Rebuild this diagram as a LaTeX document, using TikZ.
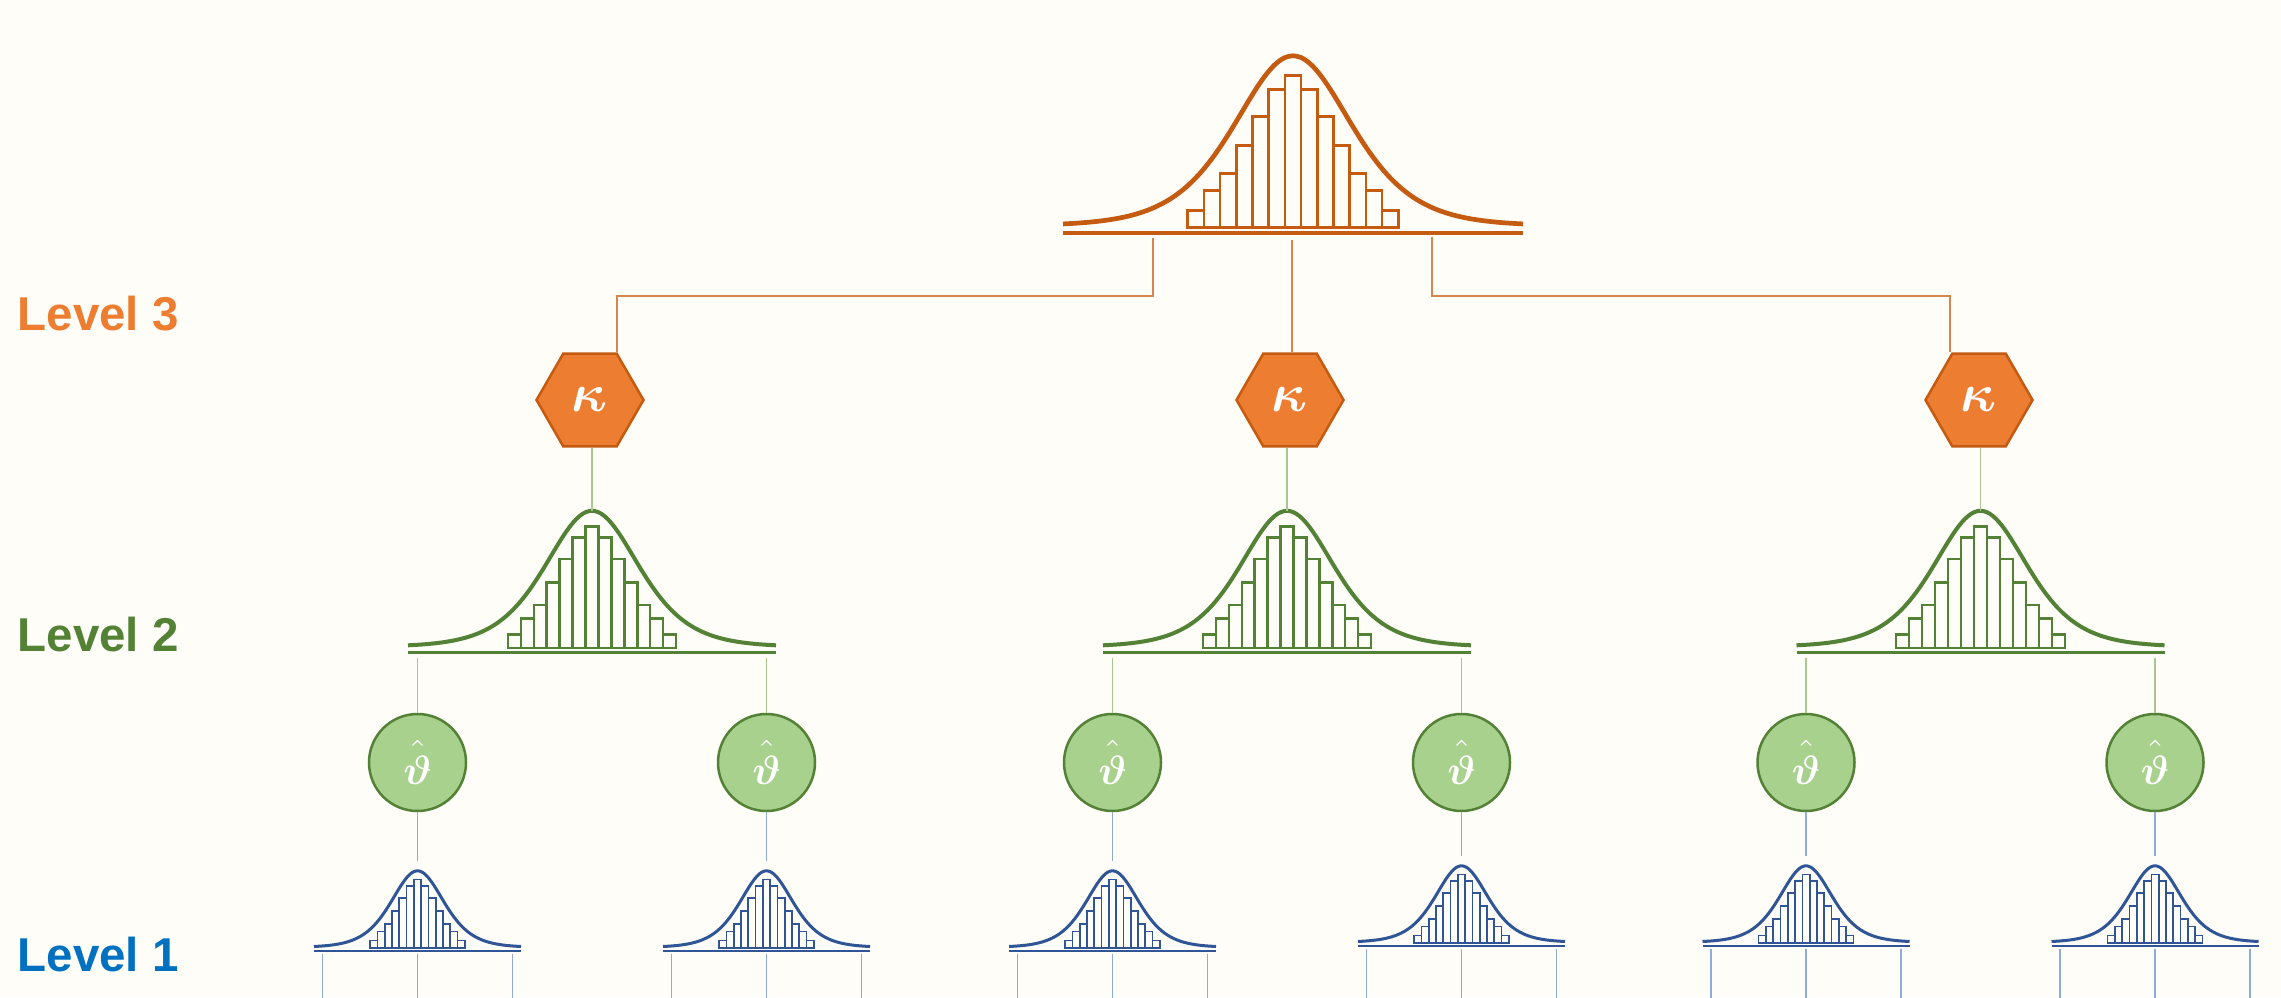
\documentclass[tikz,border=0pt]{standalone}
\usepackage{amsmath}
\usepackage{fontspec}
\setmainfont{Liberation Sans}
\usetikzlibrary{shapes.geometric,calc}
\definecolor{bg}{HTML}{FEFDF8}
\definecolor{orD}{HTML}{C55A11}
\definecolor{orF}{HTML}{ED7D31}
\definecolor{orL}{HTML}{D9864E}
\definecolor{orT}{HTML}{ED7D31}
\definecolor{grD}{HTML}{538135}
\definecolor{grF}{HTML}{A9D18E}
\definecolor{grL}{HTML}{A9C78F}
\definecolor{grT}{HTML}{548235}
\definecolor{blD}{HTML}{2F5597}
\definecolor{blL}{HTML}{8FAADC}
\definecolor{blT}{HTML}{0070C0}
\tikzset{
  pics/gauss/.style n args={5}{code={
    \begin{scope}[scale=#1, color=#2]
      \foreach \h [count=\i] in {17,37,54,82,111,138,152,138,111,82,54,37,17}
        \draw[line width=#4] ({-105.3+(\i-1)*16.2},0) rectangle ++(16.2,\h);
      \draw[line width=#3] plot[domain=-230:230,samples=121,smooth] (\x,{1.5+170/(cosh(\x/78))^2});
      \draw[line width=#5] (-230,-5.7) -- (230,-5.7);
      \coordinate (-peak) at (0,171.5);
      \coordinate (-ax) at (0,-5.7);
    \end{scope}
  }}
}
\newcommand{\kap}{\scalebox{5.4}{$\boldsymbol{\kappa}$}}
\newcommand{\vth}{\scalebox{4.1}{$\hat{\boldsymbol{\vartheta}\rule{0pt}{8.3pt}}$}}
\begin{document}
\begin{tikzpicture}[x=1pt,y=1pt,
  hexa/.style={regular polygon, regular polygon sides=6, minimum size=107pt, inner sep=0pt, fill=orF, draw=orD, line width=2.5pt, text=white},
  circ/.style={circle, minimum size=97pt, inner sep=0pt, fill=grF, draw=grD, line width=2.5pt, text=white},
  lvl/.style={anchor=base west, inner sep=0pt, font=\fontsize{47.5}{47.5}\selectfont\bfseries},
  orline/.style={draw=orL, line width=1.4pt},
  grline/.style={draw=grL, line width=1.6pt},
  blline/.style={draw=blL, line width=1.5pt}]
\clip (0,0) rectangle (2281,997);
\fill[bg] (0,0) rectangle (2281,997);

% level labels
\node[lvl, text=orT] (L3) at (17.5,666) {Level 3};
\node[lvl, text=grT] (L2) at (17.5,345) {Level 2};
\node[lvl, text=blT] (L1) at (17.5,26) {Level 1};

% top distribution
\pic (T) at (1293,769.7) {gauss={1}{orD}{4.7pt}{2.7pt}{3.3pt}};

% hexagons
\node[hexa] (K1) at (590,597) {\kap};
\node[hexa] (K2) at (1290,597) {\kap};
\node[hexa] (K3) at (1979,597) {\kap};

% orange connectors
\coordinate (Tl) at ($(T-ax)+(-140,-5)$);
\coordinate (Tc) at ($(T-ax)+(-1,-7)$);
\coordinate (Tr) at ($(T-ax)+(139,-4)$);
\coordinate (J1) at (617,701);
\coordinate (J3) at (1950,701);
\draw[orline] (Tl) |- (J1) -- (J1 |- K1.north);
\draw[orline] (Tc) -- (Tc |- K2.north);
\draw[orline] (Tr) |- (J3) -- (J3 |- K3.north);

% green distributions
\pic (G1) at (592,349) {gauss={0.8}{grD}{4pt}{2.3pt}{2.7pt}};
\pic (G2) at (1287,349) {gauss={0.8}{grD}{4pt}{2.3pt}{2.7pt}};
\pic (G3) at (1980.5,349) {gauss={0.8}{grD}{4pt}{2.3pt}{2.7pt}};
\draw[grline] (K1.south -| G1-peak) -- (G1-peak);
\draw[grline] (K2.south -| G2-peak) -- (G2-peak);
\draw[grline] (K3.south -| G3-peak) -- (G3-peak);

% circles
\node[circ] (C1) at (417.5,234.5) {\vth};
\node[circ] (C2) at (766.5,234.5) {\vth};
\node[circ] (C3) at (1112.5,234.5) {\vth};
\node[circ] (C4) at (1461.5,234.5) {\vth};
\node[circ] (C5) at (1806,234.5) {\vth};
\node[circ] (C6) at (2155,234.5) {\vth};
\draw[grline] ($(C1.north |- G1-ax)+(0,-5)$) -- (C1.north);
\draw[grline] ($(C2.north |- G1-ax)+(0,-5)$) -- (C2.north);
\draw[grline] ($(C3.north |- G2-ax)+(0,-5)$) -- (C3.north);
\draw[grline] ($(C4.north |- G2-ax)+(0,-5)$) -- (C4.north);
\draw[grline] ($(C5.north |- G3-ax)+(0,-5)$) -- (C5.north);
\draw[grline] ($(C6.north |- G3-ax)+(0,-5)$) -- (C6.north);

% level 1 distributions
\pic (B1) at (417.5,49) {gauss={0.45}{blD}{3pt}{1.7pt}{2pt}};
\pic (B2) at (766.5,49) {gauss={0.45}{blD}{3pt}{1.7pt}{2pt}};
\pic (B3) at (1112.5,49) {gauss={0.45}{blD}{3pt}{1.7pt}{2pt}};
\pic (B4) at (1461.5,54) {gauss={0.45}{blD}{3pt}{1.7pt}{2pt}};
\pic (B5) at (1806,54) {gauss={0.45}{blD}{3pt}{1.7pt}{2pt}};
\pic (B6) at (2155,54) {gauss={0.45}{blD}{3pt}{1.7pt}{2pt}};
\foreach \i in {1,...,6} {
  \draw[blline] (C\i.south) -- ($(B\i-peak)+(0,10)$);
  \foreach \d in {-95,0,95}
    \draw[blline] ($(B\i-ax)+(\d,-3.5)$) -- ++(0,-70);
}
\end{tikzpicture}
\end{document}
